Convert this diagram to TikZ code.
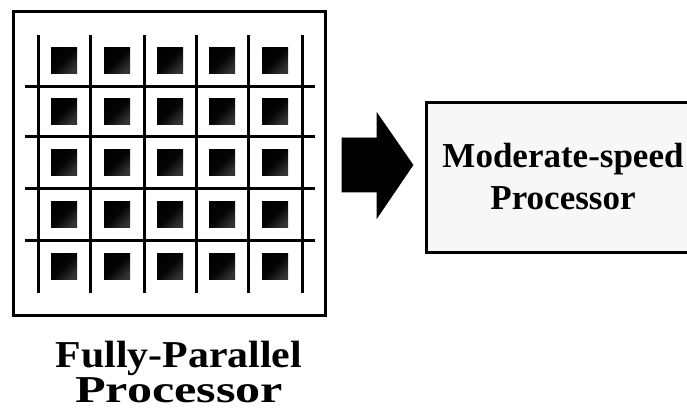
\documentclass[tikz,border=0pt]{standalone}
\usepackage{fontspec}
\setmainfont{Liberation Serif}
\usepackage{graphicx}
\usetikzlibrary{calc}
\begin{document}
\begin{tikzpicture}[x=1pt,y=-1pt,
  frame/.style={draw=black, line width=3pt, fill=white, inner sep=0pt},
  wire/.style={draw=black, line width=3pt},
  pe/.style={minimum size=26pt, inner sep=0pt, shading=axis, top color=black,
    bottom color=black!80, middle color=black!98, shading angle=45},
  bigarrow/.style={fill=black, draw=black, line width=0.6pt, line join=miter},
  cpu/.style={draw=black, line width=3pt, fill=black!3, inner sep=0pt},
  caption/.style={font=\fontsize{38}{33}\selectfont\bfseries, align=center, inner sep=0pt},
  cputext/.style={font=\fontsize{35}{42}\selectfont\bfseries, align=center, inner sep=0pt}]
\clip (0,0) rectangle (687,411);
\fill[white] (0,0) rectangle (687,411);

% processor array frame
\node[frame, minimum width=312pt, minimum height=303pt] (array) at (169,163.5) {};

% interconnect grid
\foreach \x in {38,90,144,196,248,302}
  \draw[wire] (\x,35) -- (\x,293);
\foreach \y in {87,137,189,241}
  \draw[wire] (25,\y) -- (315,\y);

% processing elements
\foreach \x [count=\i] in {64,117,170,222,275}
  \foreach \y [count=\j] in {61,112,163,215,267}
    \node[pe] (pe-\i-\j) at (\x,\y) {};

% caption under the array
\node[caption] (cap) at (179,372)
  {\scalebox{1.1}[1]{Fully-Parallel}\\\scalebox{1.32}[1]{Processor}};

% moderate-speed processor box
\node[cpu, minimum width=274pt, minimum height=150pt] (cpu) at (563,178) {};
\node[cputext] (cpulabel) at (563,177) {Moderate-speed\\Processor};

% block arrow between the two
\coordinate (a0) at (342,165);
\coordinate (a1) at (413,165);
\fill[bigarrow] ($(a0)+(0,-27)$) -- (377,138) -- (377,113) -- (a1) -- (377,218)
  -- (377,192) -- ($(a0)+(0,27)$) -- cycle;
\end{tikzpicture}
\end{document}
